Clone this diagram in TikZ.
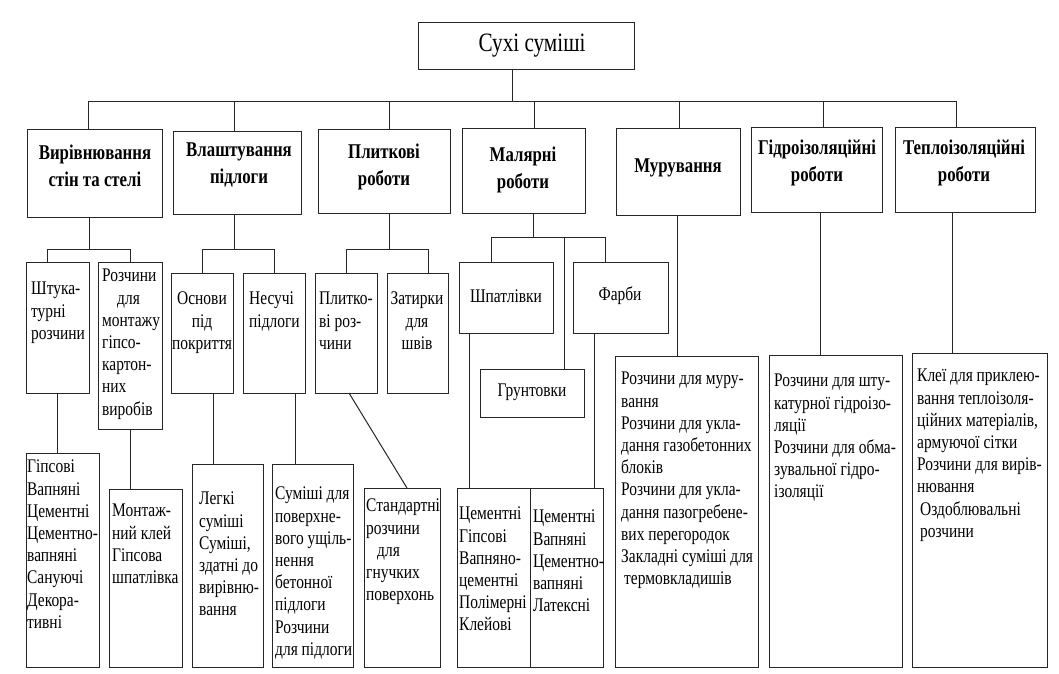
\documentclass[tikz,border=0pt]{standalone}
\usepackage{fontspec}
\setmainfont{Liberation Serif}[FakeStretch=0.8]
\begin{document}
\begin{tikzpicture}[x=1pt,y=-1pt,
  box/.style={draw=black!85, line width=1pt, inner sep=0pt, outer sep=0pt, fill=none},
  conn/.style={draw=black!85, line width=1pt},
  txt/.style={inner sep=0pt, anchor=north west, align=left, font=\fontsize{19.3}{22.2}\selectfont},
  ctxt/.style={inner sep=0pt, anchor=north, align=center, font=\fontsize{19.3}{22.2}\selectfont},
  mtxt/.style={inner sep=0pt, anchor=center, align=center, font=\fontsize{19.3}{22.2}\selectfont},
  htxt/.style={inner sep=0pt, anchor=north, align=center, font=\fontsize{21}{27}\selectfont\bfseries},
  ttxt/.style={inner sep=0pt, anchor=north, align=center, font=\fontsize{26.5}{30}\selectfont}]
\useasboundingbox[fill=white] (0,0) rectangle (1059,673);

% boxes
\node[box, minimum width=216pt, minimum height=47pt] (top) at (526,45.5) {};
\node[box, minimum width=135pt, minimum height=88pt] (b1) at (94.5,173) {};
\node[box, minimum width=128pt, minimum height=83pt] (b2) at (237,172.5) {};
\node[box, minimum width=132pt, minimum height=84pt] (b3) at (384,171) {};
\node[box, minimum width=123pt, minimum height=85pt] (b4) at (523.5,170.5) {};
\node[box, minimum width=124pt, minimum height=87pt] (b5) at (678,171.5) {};
\node[box, minimum width=131pt, minimum height=85pt] (b6) at (816.5,169.5) {};
\node[box, minimum width=140pt, minimum height=85pt] (b7) at (965,169.5) {};

\node[box, minimum width=63pt, minimum height=131pt] (c11) at (57.5,327.5) {};
\node[box, minimum width=64pt, minimum height=167pt] (c12) at (130,345.5) {};
\node[box, minimum width=62pt, minimum height=120pt] (c21) at (202,333) {};
\node[box, minimum width=62pt, minimum height=120pt] (c22) at (274,333) {};
\node[box, minimum width=62pt, minimum height=120pt] (c31) at (346,333) {};
\node[box, minimum width=61pt, minimum height=120pt] (c32) at (417.5,333) {};
\node[box, minimum width=94pt, minimum height=71pt] (c41) at (506,297.5) {};
\node[box, minimum width=95pt, minimum height=71pt] (c42) at (620.5,297.5) {};
\node[box, minimum width=104pt, minimum height=48pt] (c43) at (532,393) {};
\node[box, minimum width=143pt, minimum height=311pt] (c5) at (686.5,511.5) {};
\node[box, minimum width=133pt, minimum height=312pt] (c6) at (835.5,511) {};
\node[box, minimum width=135pt, minimum height=314pt] (c7) at (979.5,510) {};

\node[box, minimum width=73pt, minimum height=214pt] (d11) at (62.5,560) {};
\node[box, minimum width=73pt, minimum height=178pt] (d12) at (145.5,578) {};
\node[box, minimum width=71pt, minimum height=203pt] (d21) at (227.5,565.5) {};
\node[box, minimum width=81pt, minimum height=203pt] (d22) at (312.5,565.5) {};
\node[box, minimum width=76pt, minimum height=179pt] (d31) at (402,577.5) {};
\node[box, minimum width=73pt, minimum height=179pt] (d41) at (493.5,577.5) {};
\node[box, minimum width=73pt, minimum height=179pt] (d42) at (566.5,577.5) {};

% junction coordinates
\coordinate (bus) at (512,101);
\coordinate (p1) at (88,101);
\coordinate (p2) at (234,101);
\coordinate (p3) at (389,101);
\coordinate (p4) at (534,101);
\coordinate (p5) at (679,101);
\coordinate (p6) at (823,101);
\coordinate (p7) at (956,101);
\coordinate (k1) at (89,249);
\coordinate (k1a) at (47,249);
\coordinate (k1b) at (130,249);
\coordinate (k2) at (234,249);
\coordinate (k2b) at (274,249);
\coordinate (k3) at (389,249);
\coordinate (k3b) at (428,249);
\coordinate (k4) at (533,237);
\coordinate (k4a) at (491,237);
\coordinate (k4b) at (605,237);
\coordinate (k4c) at (564,237);
\coordinate (k5) at (677,300);
\coordinate (k6) at (820,300);
\coordinate (k7) at (952,300);
\coordinate (m21) at (213,430);
\coordinate (m22) at (295,430);
\coordinate (m31a) at (349,430);
\coordinate (m31b) at (407,430);
\coordinate (m41) at (469,430);
\coordinate (m42) at (594,430);

% connectors level 0 -> 1
\draw[conn] (top.south -| bus) -- (bus);
\draw[conn] (b1.north -| p1) -- (p1) -- (p7) -- (b7.north -| p7);
\draw[conn] (p2) -- (b2.north -| p2);
\draw[conn] (p3) -- (b3.north -| p3);
\draw[conn] (p4) -- (b4.north -| p4);
\draw[conn] (p5) -- (b5.north -| p5);
\draw[conn] (p6) -- (b6.north -| p6);

% level 1 -> 2
\draw[conn] (b1.south -| k1) -- (k1);
\draw[conn] (c11.north -| k1a) -- (k1a) -- (k1b) -- (c12.north);
\draw[conn] (b2.south -| k2) -- (k2);
\draw[conn] (c21.north) |- (k2b) -- (c22.north);
\draw[conn] (b3.south -| k3) -- (k3);
\draw[conn] (c31.north) |- (k3b) -- (c32.north -| k3b);
\draw[conn] (b4.south -| k4) -- (k4);
\draw[conn] (c41.north -| k4a) -- (k4a) -- (k4b) -- (c42.north -| k4b);
\draw[conn] (k4c) -- (c43.north -| k4c);
\draw[conn] (b5.south -| k5) -- (c5.north -| k5);
\draw[conn] (b6.south -| k6) -- (c6.north -| k6);
\draw[conn] (b7.south -| k7) -- (c7.north -| k7);

% level 2 -> 3
\draw[conn] (c11.south) -- (c11.south |- d11.north);
\draw[conn] (c12.south) -- (c12.south |- d12.north);
\draw[conn] (c21.south -| m21) -- (d21.north -| m21);
\draw[conn] (c22.south -| m22) -- (d22.north -| m22);
\draw[conn] (c31.south -| m31a) -- (d31.north -| m31b);
\draw[conn] (c41.south -| m41) -- (d41.north -| m41);
\draw[conn] (c42.south -| m42) -- (d42.north -| m42);

% texts
\node[ttxt] (ttop) at (532,34) {Сухі суміші};
\node[htxt] (tb1) at (95,145) {Вирівнювання\\стін та стелі};
\node[htxt] (tb2) at (239,143) {Влаштування\\підлоги};
\node[htxt] (tb3) at (384,144) {Плиткові\\роботи};
\node[htxt] (tb4) at (523,147) {Малярні\\роботи};
\node[htxt] (tb5) at (678,159) {Мурування};
\node[htxt] (tb6) at (817,140) {Гідроізоляційні\\роботи};
\node[htxt] (tb7) at (964,140) {Теплоізоляційні\\роботи};

\node[txt] (tc11) at (31,282) {Штука-\\турні\\розчини};
\node[txt] (tc12) at (102,269) {Розчини\\\hspace*{15pt}для\\монтажу\\гіпсо-\\картон-\\них\\виробів};
\node[ctxt] (tc21) at (202,292) {Основи\\під\\покриття};
\node[txt] (tc22) at (249,292) {Несучі\\підлоги};
\node[txt] (tc31) at (319,292) {Плитко-\\ві роз-\\чини};
\node[ctxt] (tc32) at (417,292) {Затирки\\для\\швів};
\node[mtxt] (tc41) at (506,296) {Шпатлівки};
\node[mtxt] (tc42) at (620,296) {Фарби};
\node[mtxt] (tc43) at (532,392) {Грунтовки};

\node[txt] (tc5) at (621,372) {Розчини для муру-\\вання\\Розчини для укла-\\дання газобетонних\\блоків\\Розчини для укла-\\дання пазогребене-\\вих перегородок\\Закладні суміші для\\\hspace*{3pt}термовкладишів};
\node[txt] (tc6) at (774,374) {Розчини для шту-\\катурної гідроізо-\\ляції\\Розчини для обма-\\зувальної гідро-\\ізоляції};
\node[txt] (tc7) at (917,369) {Клеї для приклею-\\вання теплоізоля-\\ційних матеріалів,\\армуючої сітки\\Розчини для вирів-\\нювання\\\hspace*{3pt}Оздоблювальні\\\hspace*{3pt}розчини};

\node[txt] (td11) at (27,460) {Гіпсові\\Вапняні\\Цементні\\Цементно-\\вапняні\\Сануючі\\Декора-\\тивні};
\node[txt] (td12) at (112,504) {Монтаж-\\ний клей\\Гіпсова\\шпатлівка};
\node[txt] (td21) at (199,492) {Легкі\\суміші\\Суміші,\\здатні до\\вирівню-\\вання};
\node[txt] (td22) at (275,487) {Суміші для\\поверхне-\\вого ущіль-\\нення\\бетонної\\підлоги\\Розчини\\для підлоги};
\node[txt] (td31) at (366,499) {Стандартні\\розчини\\\hspace*{11pt}для\\гнучких\\поверхонь};
\node[txt] (td41) at (459,507) {Цементні\\Гіпсові\\Вапняно-\\цементні\\Полімерні\\Клейові};
\node[txt] (td42) at (533,510) {Цементні\\Вапняні\\Цементно-\\вапняні\\Латексні};
\end{tikzpicture}
\end{document}
